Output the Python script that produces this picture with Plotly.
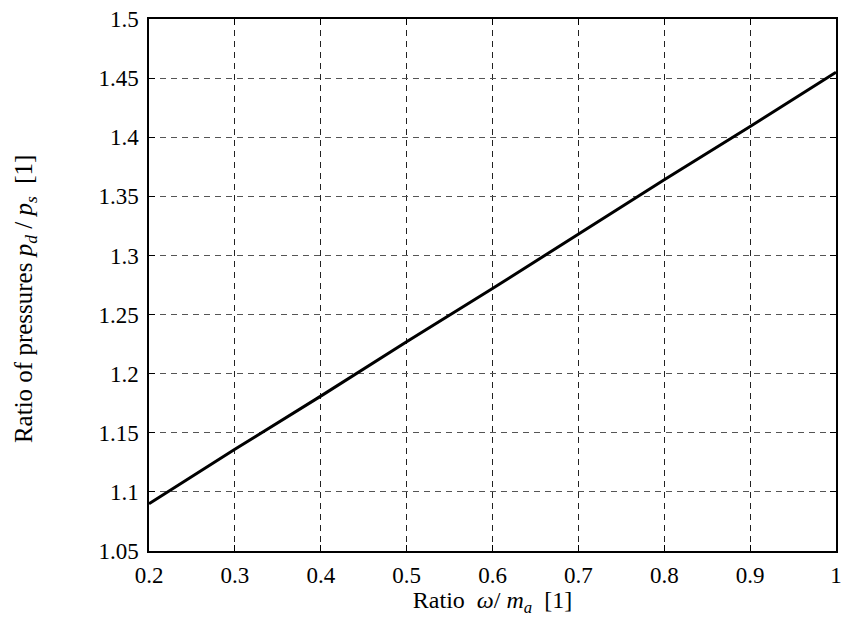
import plotly.graph_objects as go

# ratio omega / m_a
ratio = [0.2, 0.3, 0.4, 0.5, 0.6, 0.7, 0.8, 0.9, 1.0]
# pressure ratio p_d / p_s
pressure_ratio = [1.090, 1.136, 1.181, 1.227, 1.272, 1.318, 1.364, 1.409, 1.455]

x_ticks = [0.2, 0.3, 0.4, 0.5, 0.6, 0.7, 0.8, 0.9, 1.0]
x_ticktext = ["0.2", "0.3", "0.4", "0.5", "0.6", "0.7", "0.8", "0.9", "1"]
y_ticks = [1.05, 1.1, 1.15, 1.2, 1.25, 1.3, 1.35, 1.4, 1.45, 1.5]
y_ticktext = ["1.05", "1.1", "1.15", "1.2", "1.25", "1.3", "1.35", "1.4", "1.45", "1.5"]

font_family = "Liberation Serif"

W, H = 849, 617
ML, MR, MT, MB = 149, 7, 19, 66
plot_w = W - ML - MR
plot_h = H - MT - MB

fig = go.Figure()
fig.add_trace(go.Scatter(
    x=ratio, y=pressure_ratio, mode="lines",
    line=dict(color="black", width=3),
    showlegend=False,
))

fig.update_layout(
    width=W, height=H,
    margin=dict(l=ML, r=MR, t=MT, b=MB),
    paper_bgcolor="white", plot_bgcolor="white",
    font=dict(family=font_family, size=23, color="black"),
)

fig.update_xaxes(
    range=[0.2, 1.0], tickvals=x_ticks, ticktext=x_ticktext,
    showline=True, linecolor="black", linewidth=1.5, mirror="ticks",
    showgrid=True, gridcolor="#222222", gridwidth=1, griddash="6px,5px",
    zeroline=False, ticks="inside", ticklen=6, tickcolor="black", tickwidth=1,
    ticklabelstandoff=3,
    title=dict(text="Ratio  <i>ω</i>/ <i>m</i><sub><i>a</i></sub>  [1]",
               font=dict(size=24), standoff=0),
)
fig.update_yaxes(
    range=[1.05, 1.5], tickvals=y_ticks, ticktext=y_ticktext,
    showline=True, linecolor="black", linewidth=1.5, mirror="ticks",
    showgrid=True, gridcolor="#555555", gridwidth=1, griddash="6px,5px",
    zeroline=False, ticks="inside", ticklen=6, tickcolor="black", tickwidth=1,
    ticklabelstandoff=4,
)

# vertical axis title placed as a rotated annotation left of the tick labels
fig.add_annotation(
    text="Ratio of pressures <i>p</i><sub><i>d</i></sub> / <i>p</i><sub><i>s</i></sub>  [1]",
    textangle=-90, showarrow=False,
    xref="paper", yref="paper",
    x=(24 - ML) / plot_w, y=(H - MB - 299) / plot_h,
    xanchor="center", yanchor="middle",
    font=dict(size=25),
)

fig.write_html("out.html")
